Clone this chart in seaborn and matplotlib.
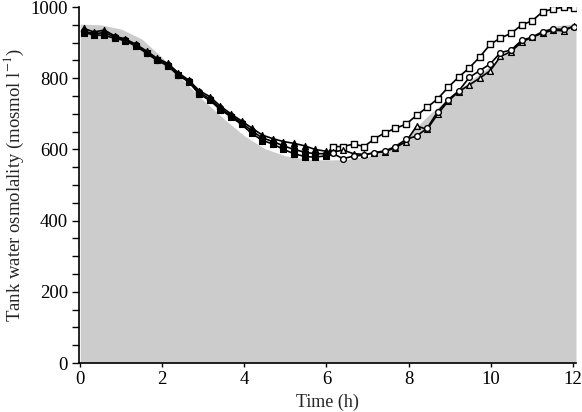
import numpy as np
import pandas as pd
import matplotlib
matplotlib.use("Agg")
import matplotlib.pyplot as plt
import seaborn as sns

# ---- data ----
t_first = [0.08, 0.33, 0.59, 0.85, 1.10, 1.36, 1.62, 1.87, 2.13, 2.39, 2.64, 2.90,
           3.16, 3.41, 3.67, 3.93, 4.18, 4.44, 4.70, 4.95, 5.21, 5.47, 5.72, 5.98]
t_second = [6.15, 6.40, 6.66, 6.92, 7.17, 7.43, 7.68, 7.94, 8.20, 8.45, 8.71, 8.96,
            9.22, 9.48, 9.73, 9.99, 10.24, 10.50, 10.76, 11.01, 11.27, 11.52, 11.78, 12.03]

sq_first = [928, 922, 920, 912, 905, 890, 870, 850, 835, 808, 790, 755,
            738, 712, 692, 670, 645, 625, 615, 600, 588, 580, 578, 582]
tri_first = [940, 930, 935, 918, 910, 895, 876, 856, 842, 815, 795, 765,
             748, 722, 700, 680, 660, 640, 630, 622, 617, 610, 600, 595]
cir_first = [932, 925, 928, 915, 908, 892, 872, 852, 838, 810, 792, 760,
             742, 716, 695, 675, 652, 632, 622, 610, 600, 592, 588, 588]

sq_second = [608, 608, 615, 608, 630, 647, 659, 671, 696, 718, 742, 774,
             803, 829, 859, 895, 913, 926, 950, 961, 987, 994, 1000, 996]
cir_second = [589, 574, 581, 584, 591, 596, 608, 628, 638, 659, 706, 739,
              764, 802, 821, 840, 872, 879, 907, 915, 931, 938, 937, 945]
tri_second = [592, 598, 588, 586, 590, 594, 605, 622, 666, 656, 699, 735,
              762, 781, 800, 821, 861, 875, 902, 915, 927, 935, 933, 947]

# grey background (natural tide curve)
bg_t = [0.0, 0.5, 1.0, 1.5, 2.0, 2.5, 3.0, 3.5, 4.0, 4.5, 5.0, 5.5, 6.0,
        6.5, 7.0, 7.5, 8.0, 8.5, 9.0, 9.5, 10.0, 10.5, 11.0, 11.5, 12.0, 12.08]
bg_v = [952, 950, 938, 910, 858, 795, 738, 686, 638, 602, 582, 573, 570,
        572, 580, 600, 640, 698, 746, 793, 835, 880, 922, 946, 952, 952]

x_ticks = [0, 2, 4, 6, 8, 10, 12]
y_ticks = [0, 200, 400, 600, 800, 1000]

# ---- figure ----
sns.set_theme(style="ticks")
plt.rcParams["font.family"] = ["Liberation Serif", "DejaVu Serif"]
plt.rcParams["mathtext.fontset"] = "stix"

fig = plt.figure(figsize=(5.82, 4.12), dpi=100)
ax = fig.add_axes([79 / 582, 1 - 363 / 412, (576 - 79) / 582, (363 - 7) / 412])

ax.fill_between(bg_t, 0, bg_v, color="#cccccc", linewidth=0, zorder=0)

series = [
    ("square", "s", sq_first, sq_second),
    ("triangle", "^", tri_first, tri_second),
    ("circle", "o", cir_first, cir_second),
]
for name, mk, v1, v2 in series:
    df = pd.DataFrame({"t": t_first + t_second, "v": v1 + v2})
    sns.lineplot(data=df, x="t", y="v", ax=ax, color="black", linewidth=1.2,
                 sort=False, zorder=2)
    d1 = pd.DataFrame({"t": t_first, "v": v1})
    d2 = pd.DataFrame({"t": t_second, "v": v2})
    sns.scatterplot(data=d1, x="t", y="v", ax=ax, marker=mk, s=20,
                    color="black", edgecolor="black", linewidth=0.8, zorder=3)
    sns.scatterplot(data=d2, x="t", y="v", ax=ax, marker=mk, s=17,
                    facecolor="white", edgecolor="black", linewidth=1.0, zorder=3)

ax.set_xlim(-0.03, 12.08)
ax.set_ylim(0, 1000)
ax.set_xticks(x_ticks)
ax.set_yticks(y_ticks)
ax.set_yticks(np.arange(0, 1001, 50), minor=True)
ax.tick_params(axis="both", which="major", direction="out", length=5, width=1,
               labelsize=13.5, colors="black", pad=3)
ax.tick_params(axis="y", which="minor", direction="out", length=5, width=1, colors="black")
ax.tick_params(axis="x", which="major", length=3)

ax.set_xlabel("Time (h)", fontsize=13, labelpad=4)
ax.set_ylabel("Tank water osmolality (mosmol l$^{-1}$)", fontsize=13.5, labelpad=3)

for s in ["top", "right"]:
    ax.spines[s].set_visible(False)
for s in ["left", "bottom"]:
    ax.spines[s].set_color("black")
    ax.spines[s].set_linewidth(1.2)

fig.savefig("out.png", dpi=100)
